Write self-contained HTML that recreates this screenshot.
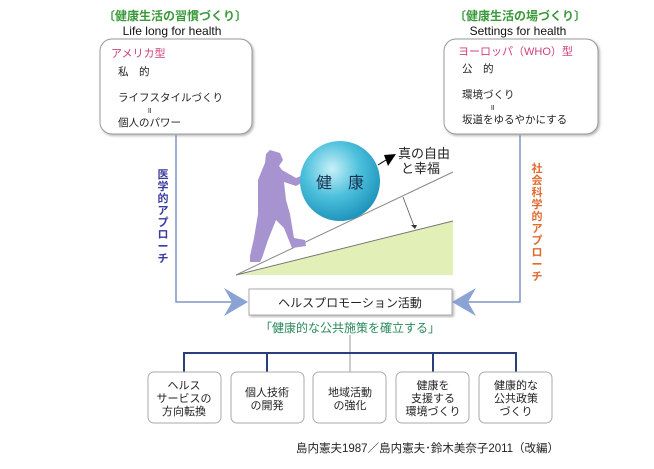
<!DOCTYPE html>
<html><head><meta charset="utf-8"><style>
body{margin:0;background:#fff;}
svg text{font-family:"Liberation Sans","Noto Sans CJK JP",sans-serif;}
</style></head><body>
<svg width="654" height="464" viewBox="0 0 654 464" xmlns="http://www.w3.org/2000/svg">
<defs>
<radialGradient id="bg" cx="0.4" cy="0.35" r="0.7">
<stop offset="0" stop-color="#c8f0f8"/><stop offset="0.5" stop-color="#4cc0dc"/><stop offset="1" stop-color="#1a8fb8"/>
</radialGradient>
<filter id="sh"><feDropShadow dx="1.5" dy="1.5" stdDeviation="1.2" flood-color="#888" flood-opacity="0.6"/></filter>
</defs>
<!-- top titles -->
<text x="175" y="20" font-size="12" fill="#3a9a3a" text-anchor="middle" font-weight="bold">〔健康生活の習慣づくり〕</text>
<text x="172" y="35" font-size="12" fill="#111" text-anchor="middle">Life long for health</text>
<text x="520" y="20" font-size="12" fill="#3a9a3a" text-anchor="middle" font-weight="bold">〔健康生活の場づくり〕</text>
<text x="518" y="35" font-size="12" fill="#111" text-anchor="middle">Settings for health</text>
<!-- top boxes -->
<rect x="100" y="39" width="152" height="95" rx="12" fill="#fff" stroke="#999" filter="url(#sh)"/>
<text x="111" y="57" font-size="11" fill="#d0407a">アメリカ型</text>
<text x="118" y="75" font-size="10.5" fill="#222">私　的</text>
<text x="118" y="101" font-size="10.5" fill="#222">ライフスタイルづくり</text>
<text x="147" y="113" font-size="8" fill="#222">॥</text>
<text x="118" y="126" font-size="10.5" fill="#222">個人のパワー</text>
<rect x="444" y="39" width="154" height="95" rx="12" fill="#fff" stroke="#999" filter="url(#sh)"/>
<text x="458" y="55" font-size="11" fill="#d0407a">ヨーロッパ（WHO）型</text>
<text x="462" y="72" font-size="10.5" fill="#222">公　的</text>
<text x="462" y="98" font-size="10.5" fill="#222">環境づくり</text>
<text x="490" y="110" font-size="8" fill="#222">॥</text>
<text x="462" y="123" font-size="10.5" fill="#222">坂道をゆるやかにする</text>
<!-- side connectors -->
<polyline points="176,135 176,302 232,302" fill="none" stroke="#7f96c4" stroke-width="1.5"/>
<polygon points="224,288 248,302 224,316 232,302" fill="#8aa2d4"/>
<polyline points="520,135 520,302 468,302" fill="none" stroke="#7f96c4" stroke-width="1.5"/>
<polygon points="476,288 452,302 476,316 468,302" fill="#8aa2d4"/>
<text font-size="11" fill="#3a3aa0" font-weight="bold" text-anchor="middle">
<tspan x="163" y="178">医</tspan><tspan x="163" y="190">学</tspan><tspan x="163" y="202">的</tspan><tspan x="163" y="214">ア</tspan><tspan x="163" y="226">プ</tspan><tspan x="163" y="238">ロ</tspan><tspan x="163" y="250">ー</tspan><tspan x="163" y="262">チ</tspan></text>
<text font-size="11" fill="#e06a30" font-weight="bold" text-anchor="middle">
<tspan x="537" y="172">社</tspan><tspan x="537" y="184">会</tspan><tspan x="537" y="196">科</tspan><tspan x="537" y="208">学</tspan><tspan x="537" y="220">的</tspan><tspan x="537" y="232">ア</tspan><tspan x="537" y="244">プ</tspan><tspan x="537" y="256">ロ</tspan><tspan x="537" y="268">ー</tspan><tspan x="537" y="280">チ</tspan></text>
<!-- slope -->
<polygon points="236,275 453,221 453,275" fill="#e2f0b8"/>
<line x1="236" y1="275" x2="453" y2="221" stroke="#777" stroke-width="1"/>
<line x1="236" y1="275" x2="453" y2="172" stroke="#888" stroke-width="1"/>
<line x1="403" y1="197" x2="414" y2="226" stroke="#555" stroke-width="0.8"/>
<polygon points="411,225 417,225 415,229" fill="#333"/>
<!-- person -->
<path d="M270,150 L280,153 L283,160 L279,166 L282,170 L296,178 L301,176 L303,182 L296,186 L284,182 L286,200 L290,214 L294,238 L305,240 L306,246 L292,248 L284,228 L276,220 L268,240 L262,258 L260,262 L250,262 L250,256 L254,238 L258,214 L258,180 L262,170 L265,163 L266,154 Z" fill="#a793cf"/>
<!-- ball -->
<circle cx="340" cy="181" r="40" fill="url(#bg)"/>
<text x="340" y="188" font-size="16" fill="#1a3050" text-anchor="middle" font-family="'Liberation Serif','Noto Serif CJK SC',serif">健　康</text>
<line x1="378" y1="165" x2="386" y2="160" stroke="#000" stroke-width="1"/>
<polygon points="384,155 396,154 388,166" fill="#000"/>
<text x="398" y="158" font-size="13" fill="#222">真の自由</text>
<text x="401" y="173" font-size="13" fill="#222">と幸福</text>
<!-- middle box -->
<rect x="249" y="289" width="203" height="26" fill="#fff" stroke="#aaa" filter="url(#sh)"/>
<text x="350" y="307" font-size="12" fill="#222" text-anchor="middle">ヘルスプロモーション活動</text>
<text x="350" y="332" font-size="12" fill="#2a8a5a" text-anchor="middle">「健康的な公共施策を確立する」</text>
<!-- tree -->
<line x1="350" y1="335" x2="350" y2="372" stroke="#999" stroke-width="1"/>
<polyline points="184,372 184,353 516,353 516,372" fill="none" stroke="#2a3f7a" stroke-width="2"/>
<line x1="267" y1="353" x2="267" y2="372" stroke="#2a3f7a" stroke-width="2"/>
<line x1="433" y1="353" x2="433" y2="372" stroke="#2a3f7a" stroke-width="2"/>
<g fill="#fff" stroke="#aaa" stroke-width="1">
<rect x="148" y="372" width="73" height="51" rx="6"/>
<rect x="231" y="372" width="73" height="51" rx="6"/>
<rect x="313" y="372" width="73" height="51" rx="6"/>
<rect x="396" y="372" width="73" height="51" rx="6"/>
<rect x="479" y="372" width="73" height="51" rx="6"/>
</g>
<g font-size="11" fill="#222" text-anchor="middle">
<text x="184" y="389">ヘルス</text><text x="184" y="402">サービスの</text><text x="184" y="415">方向転換</text>
<text x="267" y="396">個人技術</text><text x="267" y="409">の開発</text>
<text x="350" y="396">地域活動</text><text x="350" y="409">の強化</text>
<text x="433" y="389">健康を</text><text x="433" y="402">支援する</text><text x="433" y="415">環境づくり</text>
<text x="516" y="389">健康的な</text><text x="516" y="402">公共政策</text><text x="516" y="415">づくり</text>
</g>
<text x="296" y="452" font-size="11.5" fill="#222">島内憲夫1987／島内憲夫･鈴木美奈子2011（改編）</text>
</svg>
</body></html>
